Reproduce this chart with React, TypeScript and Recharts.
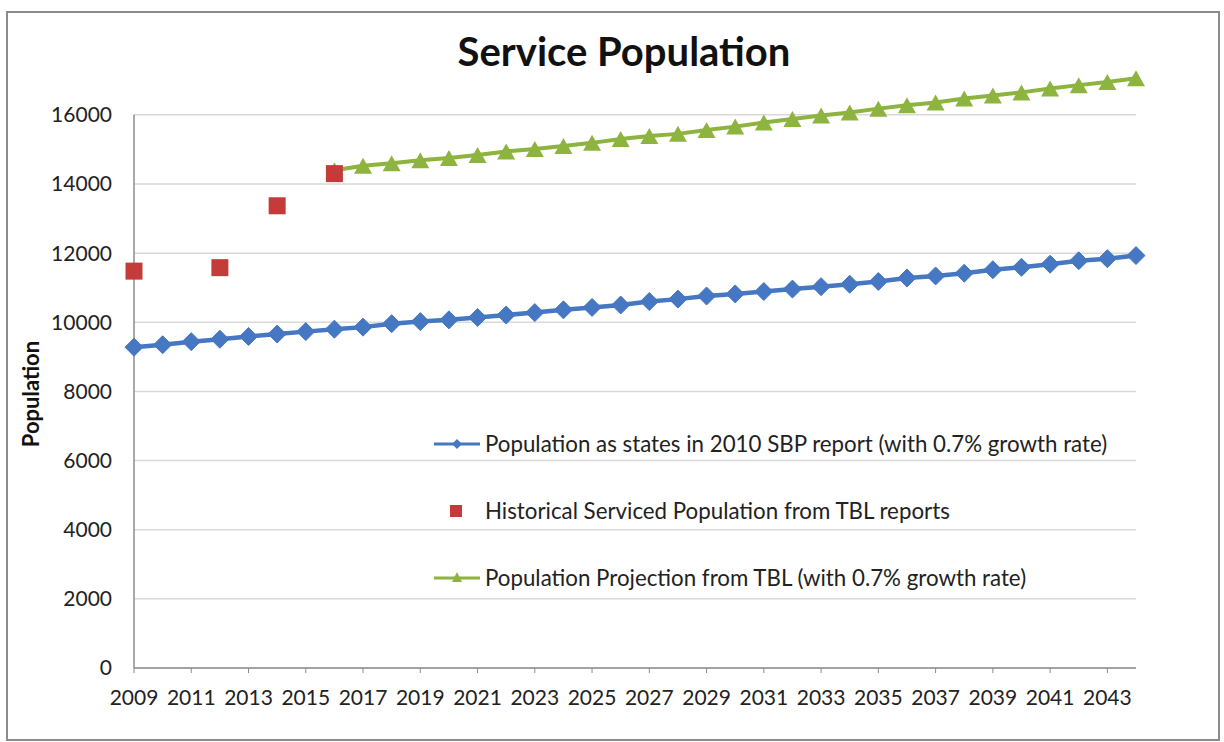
import React from 'react';
import {
  ComposedChart,
  Line,
  XAxis,
  YAxis,
  CartesianGrid,
  Legend,
  ReferenceLine,
} from 'recharts';

const years = [
  '2009', '2010', '2011', '2012', '2013', '2014', '2015', '2016', '2017', '2018',
  '2019', '2020', '2021', '2022', '2023', '2024', '2025', '2026', '2027', '2028',
  '2029', '2030', '2031', '2032', '2033', '2034', '2035', '2036', '2037', '2038',
  '2039', '2040', '2041', '2042', '2043', '2044',
];

const sbpPopulation = [
  9280, 9350, 9440, 9510, 9590, 9660, 9730, 9800, 9860, 9960,
  10020, 10070, 10140, 10210, 10280, 10360, 10430, 10500, 10600, 10670,
  10760, 10820, 10890, 10960, 11030, 11100, 11180, 11280, 11340, 11420,
  11520, 11590, 11680, 11780, 11840, 11930,
];

const historicalPopulation: (number | null)[] = [
  11480, null, null, 11580, null, 13370, null, 14300, null, null,
  null, null, null, null, null, null, null, null, null, null,
  null, null, null, null, null, null, null, null, null, null,
  null, null, null, null, null, null,
];

const tblProjection: (number | null)[] = [
  null, null, null, null, null, null, null, 14400, 14530, 14600,
  14690, 14750, 14840, 14940, 15010, 15100, 15190, 15300, 15390, 15450,
  15560, 15660, 15780, 15880, 15980, 16070, 16180, 16280, 16360, 16470,
  16560, 16650, 16760, 16860, 16950, 17060,
];

const yTicks = [0, 2000, 4000, 6000, 8000, 10000, 12000, 14000, 16000];

const seriesNames = [
  'Population as states in 2010 SBP report (with 0.7% growth rate)',
  'Historical Serviced Population from TBL reports',
  'Population Projection from TBL (with 0.7% growth rate)',
];

const BLUE = '#4677C2';
const RED = '#C43C3A';
const GREEN = '#8DB43E';
const FONT = 'Lato, "Open Sans", sans-serif';

const data = years.map((year, i) => ({
  year,
  sbp: sbpPopulation[i],
  hist: historicalPopulation[i],
  tbl: tblProjection[i],
}));

const Diamond = (props: any) => {
  const { cx, cy, value } = props;
  if (value == null || cx == null || cy == null) return <g key={props.key} />;
  const r = 9;
  return (
    <path
      key={props.key}
      d={`M${cx},${cy - r} L${cx + r},${cy} L${cx},${cy + r} L${cx - r},${cy} Z`}
      fill={BLUE}
      stroke={BLUE}
      strokeWidth={1}
    />
  );
};

const Square = (props: any) => {
  const { cx, cy, value } = props;
  if (value == null || cx == null || cy == null) return <g key={props.key} />;
  const s = 8.5;
  return <rect key={props.key} x={cx - s} y={cy - s} width={2 * s} height={2 * s} fill={RED} />;
};

const Triangle = (props: any) => {
  const { cx, cy, value } = props;
  if (value == null || cx == null || cy == null) return <g key={props.key} />;
  const w = 9;
  const h = 8;
  return (
    <path
      key={props.key}
      d={`M${cx},${cy - h} L${cx + w},${cy + h} L${cx - w},${cy + h} Z`}
      fill={GREEN}
    />
  );
};

const LegendIcon = ({ kind }: { kind: string }) => {
  if (kind === 'diamond') {
    return (
      <svg width={52} height={20}>
        <line x1={4} y1={10} x2={50} y2={10} stroke={BLUE} strokeWidth={3} />
        <path d="M27,5 L32,10 L27,15 L22,10 Z" fill={BLUE} />
      </svg>
    );
  }
  if (kind === 'square') {
    return (
      <svg width={52} height={20}>
        <rect x={20} y={4} width={12} height={12} fill={RED} />
      </svg>
    );
  }
  return (
    <svg width={52} height={20}>
      <line x1={4} y1={10} x2={50} y2={10} stroke={GREEN} strokeWidth={3} />
      <path d="M27,4 L32,14 L22,14 Z" fill={GREEN} />
    </svg>
  );
};

const renderLegend = () => {
  const kinds = ['diamond', 'square', 'triangle'];
  return (
    <div style={{ fontFamily: FONT }}>
      {seriesNames.map((name, i) => (
        <div
          key={name}
          style={{ display: 'flex', alignItems: 'center', height: 67, whiteSpace: 'nowrap' }}
        >
          <LegendIcon kind={kinds[i]} />
          <span style={{ fontSize: 22.3, color: '#222', marginLeft: 3 }}>{name}</span>
        </div>
      ))}
    </div>
  );
};

const renderYLabel = () => (
  <text
    x={30}
    y={394}
    transform="rotate(-90, 30, 394)"
    textAnchor="middle"
    dominantBaseline="central"
    fontFamily={FONT}
    fontWeight={700}
    fontSize={22}
    fill="#111"
  >
    Population
  </text>
);

export default function App() {
  return (
    <div
      style={{
        position: 'absolute',
        left: 0,
        top: 0,
        width: 1224,
        height: 742,
        background: '#fff',
        fontFamily: FONT,
      }}
    >
      <div
        style={{
          position: 'absolute',
          left: 6,
          top: 11,
          width: 1210,
          height: 726,
          border: '2px solid #8c8c8c',
          pointerEvents: 'none',
        }}
      />
      <div
        style={{
          position: 'absolute',
          left: 0,
          top: 27,
          width: 1248,
          textAlign: 'center',
          fontSize: 40,
          fontWeight: 700,
          color: '#111',
          lineHeight: 'normal',
        }}
      >
        Service Population
      </div>
      <div style={{ position: 'absolute', left: 0, top: 0 }}>
        <ComposedChart
          width={1224}
          height={742}
          data={data}
          margin={{ top: 63, right: 88, bottom: 0, left: 0 }}
        >
          <CartesianGrid
            vertical={false}
            horizontalValues={yTicks}
            stroke="#d9d9d9"
            strokeWidth={1.5}
          />
          <XAxis
            dataKey="year"
            interval={1}
            height={74}
            tickSize={5}
            tickMargin={17}
            tick={{ fontSize: 21, fill: '#222', fontFamily: FONT }}
            axisLine={{ stroke: '#8c8c8c', strokeWidth: 1.5 }}
            tickLine={{ stroke: '#8c8c8c' }}
          />
          <YAxis
            type="number"
            domain={[0, 17500]}
            ticks={yTicks}
            width={134}
            tickSize={0}
            tickMargin={22}
            axisLine={false}
            tickLine={false}
            tick={{ fontSize: 21, fill: '#222', fontFamily: FONT }}
            label={{ content: renderYLabel }}
          />
          <ReferenceLine
            segment={[
              { x: '2009', y: 0 },
              { x: '2009', y: 16000 },
            ]}
            stroke="#8c8c8c"
            strokeWidth={1.5}
          />
          <Line
            dataKey="sbp"
            name={seriesNames[0]}
            stroke={BLUE}
            strokeWidth={4.5}
            dot={Diamond}
            activeDot={false}
            isAnimationActive={false}
          />
          <Line
            dataKey="tbl"
            name={seriesNames[2]}
            stroke={GREEN}
            strokeWidth={4}
            dot={Triangle}
            activeDot={false}
            isAnimationActive={false}
          />
          <Line
            dataKey="hist"
            name={seriesNames[1]}
            stroke="none"
            strokeWidth={0}
            dot={Square}
            activeDot={false}
            isAnimationActive={false}
          />
          <Legend
            layout="vertical"
            align="center"
            verticalAlign="middle"
            content={renderLegend}
            wrapperStyle={{ left: 430, top: 410, width: 760 }}
          />
        </ComposedChart>
      </div>
    </div>
  );
}
